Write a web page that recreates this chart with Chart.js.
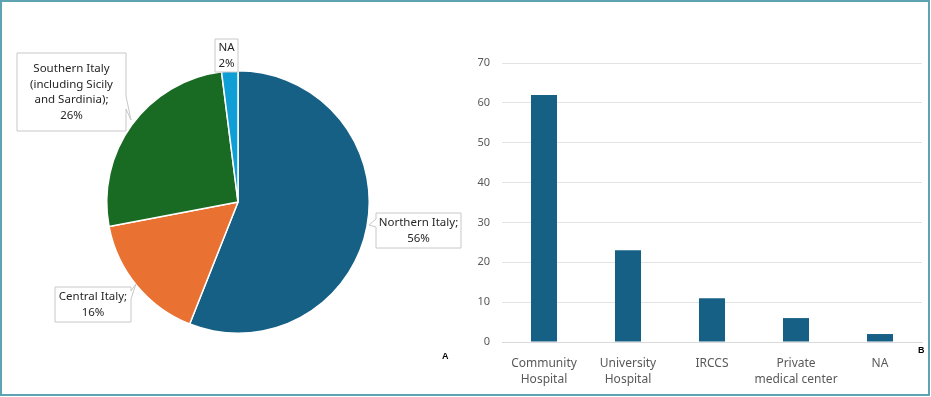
<!DOCTYPE html>
<html lang="en">
<head>
  <meta charset="UTF-8" />
  <title>Italy regions and hospital types</title>
  <script src="https://cdn.jsdelivr.net/npm/chart.js"></script>
  <style>
    html, body { margin: 0; padding: 0; background: #fff; }
    #frame {
      position: relative; width: 926px; height: 392px;
      border: 2px solid #5ea3b2; overflow: hidden; background: #fff;
    }
    #pieCanvas { position: absolute; left: -2px; top: -2px; }
    #barCanvas { position: absolute; left: 468px; top: -2px; }
    .tag { position: absolute; font: bold 9px "Liberation Sans", Arial, sans-serif; color: #000; }
  </style>
</head>
<body>
<div id="frame">
  <canvas id="pieCanvas" width="470" height="397"></canvas>
  <canvas id="barCanvas" width="463" height="397"></canvas>
  <div class="tag" style="left:440px; top:349px;">A</div>
  <div class="tag" style="left:916px; top:343px;">B</div>
</div>

<script>
  // pie: region
  const regions = ['Northern Italy', 'Central Italy', 'Southern Italy (including Sicily and Sardinia)', 'NA'];
  const regionPct = [56, 16, 26, 2];
  const regionColors = ['#176085', '#e97132', '#196b24', '#0f9ed5'];

  // bars: hospital type
  const hospitalTypes = [['Community', 'Hospital'], ['University', 'Hospital'], 'IRCCS', ['Private', 'medical center'], 'NA'];
  const hospitalCounts = [62, 23, 11, 6, 2];
  const yTicks = [0, 10, 20, 30, 40, 50, 60, 70];

  const FONT = '"Noto Sans", "Liberation Sans", Arial, sans-serif';

  // callout boxes (x, y, w, h in canvas px), pointer base on one side + tip
  const callouts = [
    { lines: ['Northern Italy;', regionPct[0] + '%'], box: [376, 213, 85, 35], ptr: [[376, 219], [376, 227], [369, 225]] },
    { lines: ['Central Italy;', regionPct[1] + '%'], box: [55, 287, 76, 35], ptr: [[131, 291], [131, 299], [136, 284]] },
    { lines: ['Southern Italy', '(including Sicily', 'and Sardinia);', regionPct[2] + '%'], box: [17, 53, 109, 78], ptr: [[126, 96], [126, 109], [131, 120]] },
    { lines: ['NA', regionPct[3] + '%'], box: [215, 39, 23, 33], ptr: null }
  ];

  const calloutPlugin = {
    id: 'callouts',
    afterDraw(chart) {
      const ctx = chart.ctx;
      ctx.save();
      callouts.forEach(c => {
        const [x, y, w, h] = c.box;
        ctx.beginPath();
        if (c.ptr) {
          const [a, b, tip] = c.ptr;
          ctx.moveTo(x, y);
          if (a[0] === x) {
            // pointer on left side
            ctx.lineTo(x + w, y); ctx.lineTo(x + w, y + h); ctx.lineTo(x, y + h);
            ctx.lineTo(b[0], b[1]); ctx.lineTo(tip[0], tip[1]); ctx.lineTo(a[0], a[1]);
          } else {
            // pointer on right side
            ctx.lineTo(x + w, y); ctx.lineTo(a[0], a[1]); ctx.lineTo(tip[0], tip[1]);
            ctx.lineTo(b[0], b[1]); ctx.lineTo(x + w, y + h); ctx.lineTo(x, y + h);
          }
        } else {
          ctx.rect(x, y, w, h);
        }
        ctx.closePath();
        ctx.fillStyle = '#ffffff';
        ctx.fill();
        ctx.strokeStyle = '#c8c8c8';
        ctx.lineWidth = 1;
        ctx.stroke();

        ctx.fillStyle = '#262626';
        ctx.font = '11.5px ' + FONT;
        ctx.textAlign = 'center';
        ctx.textBaseline = 'middle';
        const lh = 15.5;
        const y0 = y + h / 2 - (c.lines.length - 1) * lh / 2;
        c.lines.forEach((t, i) => ctx.fillText(t, x + w / 2, y0 + i * lh));
      });
      ctx.restore();
    }
  };

  new Chart(document.getElementById('pieCanvas'), {
    type: 'pie',
    data: {
      labels: regions,
      datasets: [{
        data: regionPct,
        backgroundColor: regionColors,
        borderColor: '#ffffff',
        borderWidth: 1.5
      }]
    },
    options: {
      responsive: false,
      animation: false,
      layout: { padding: { left: 106, right: 100, top: 70, bottom: 63 } },
      plugins: { legend: { display: false }, tooltip: { enabled: false } }
    },
    plugins: [calloutPlugin]
  });

  new Chart(document.getElementById('barCanvas'), {
    type: 'bar',
    data: {
      labels: hospitalTypes,
      datasets: [{
        data: hospitalCounts,
        backgroundColor: '#176085',
        barPercentage: 0.31,
        categoryPercentage: 1
      }]
    },
    options: {
      responsive: false,
      animation: false,
      layout: { padding: { left: 0, right: 11, top: 63, bottom: 0 } },
      scales: {
        y: {
          min: 0, max: 70,
          afterBuildTicks(scale) { scale.ticks = yTicks.map(v => ({ value: v })); },
          afterFit(scale) { scale.width = 32; scale.paddingTop = 0; },
          border: { display: false },
          grid: { color: '#e3e3e3', drawTicks: false, lineWidth: 1 },
          ticks: { color: '#595959', font: { size: 11, family: FONT }, padding: 12 }
        },
        x: {
          afterFit(scale) { scale.height = 55; },
          border: { display: true, color: '#d9d9d9' },
          grid: { display: false },
          ticks: { color: '#595959', font: { size: 12, family: FONT, lineHeight: 1.3 }, padding: 6, maxRotation: 0, autoSkip: false }
        }
      },
      plugins: { legend: { display: false }, tooltip: { enabled: false } }
    }
  });
</script>
</body>
</html>
